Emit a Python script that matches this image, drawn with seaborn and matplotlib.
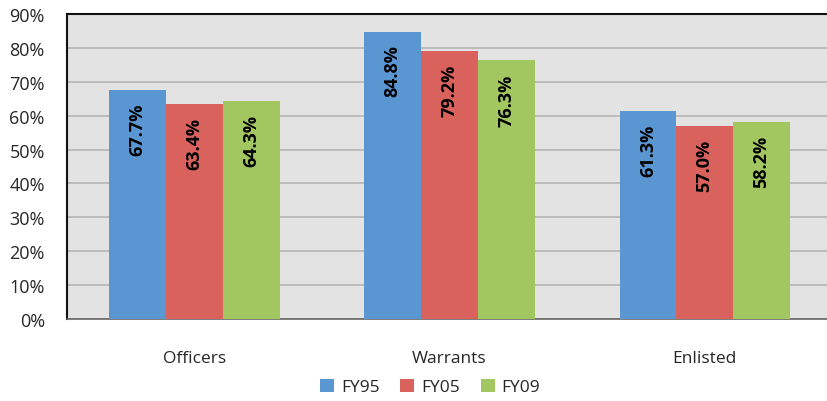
import seaborn as sns
import numpy as np
import pandas as pd
import matplotlib.pyplot as plt

categories = ['Officers', 'Warrants', 'Enlisted']
years = ['FY95', 'FY05', 'FY09']
fy95 = [67.7, 84.8, 61.3]
fy05 = [63.4, 79.2, 57.0]
fy09 = [64.3, 76.3, 58.2]
palette = ['#5a96d2', '#d9635c', '#a3c760']

df = pd.DataFrame({
    'group': categories * 3,
    'year': [y for y in years for _ in categories],
    'value': fy95 + fy05 + fy09,
})

sns.set_style('white')
plt.rcParams['font.family'] = ['Open Sans', 'DejaVu Sans']

fig = plt.figure(figsize=(8.27, 4.02), dpi=100)
ax = fig.add_axes([67 / 827, 1 - 320 / 402, 1 - 67 / 827, 305 / 402])
ax.set_facecolor('#e3e3e3')

sns.barplot(data=df, x='group', y='value', hue='year', order=categories,
            hue_order=years, palette=palette, width=0.667, saturation=1,
            linewidth=0, ax=ax, zorder=3)

for cont in ax.containers:
    for bar, val in zip(cont, cont.datavalues):
        ax.text(bar.get_x() + bar.get_width() / 2, bar.get_height() - 3.8,
                f'{val:.1f}%', rotation=90, ha='center', va='top',
                fontsize=13, fontweight='bold', color='#000000', zorder=4)

ax.set_ylim(0, 90)
ax.set_xlim(-0.5, 2.48)
ax.set_yticks(np.arange(0, 91, 10))
ax.set_yticklabels([f'{t}%' for t in range(0, 91, 10)], fontsize=13)
ax.tick_params(axis='x', labelsize=12.5, pad=22, length=0)
ax.tick_params(axis='y', length=0, pad=16)
ax.yaxis.grid(True, color='#b5b5b5', linewidth=1.2, zorder=0)
ax.set_axisbelow(True)
ax.set_xlabel('')
ax.set_ylabel('')

for s in ['left', 'top']:
    ax.spines[s].set_color('#111111')
    ax.spines[s].set_linewidth(1.5)
ax.spines['right'].set_visible(False)
ax.spines['bottom'].set_color('#666666')
ax.spines['bottom'].set_linewidth(1.2)

ax.legend(loc='center', bbox_to_anchor=(0.478, -0.223), ncol=3,
          frameon=False, fontsize=12.5, handlelength=0.8, handleheight=0.8,
          handletextpad=0.4, columnspacing=1.2)

fig.savefig('out.png', dpi=100)
